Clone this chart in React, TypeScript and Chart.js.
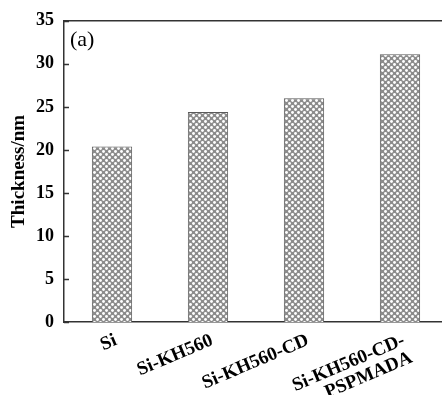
import React, { useEffect, useRef } from "react";
import { Chart, registerables } from "chart.js";

Chart.register(...registerables);

const categories: (string | string[])[] = [
  "Si",
  "Si-KH560",
  "Si-KH560-CD",
  ["Si-KH560-CD-", "PSPMADA"],
];
const thickness = [20.4, 24.4, 26.0, 31.1];
const yMin = 0;
const yMax = 35;
const yStep = 5;
const yTitle = "Thickness/nm";
const panelLabel = "(a)";

const SERIF = "'Liberation Serif', 'Times New Roman', serif";
const AXIS_COLOR = "#333333";

function makePattern(): CanvasPattern | string {
  const c = document.createElement("canvas");
  c.width = 6;
  c.height = 6;
  const g = c.getContext("2d");
  if (!g) return "#aaaaaa";
  g.fillStyle = "#8c8c8c";
  g.fillRect(0, 0, 6, 6);
  g.fillStyle = "#ffffff";
  const dots = [
    [1.5, 1.5],
    [4.5, 4.5],
  ];
  for (const [x, y] of dots) {
    g.beginPath();
    g.arc(x, y, 1.45, 0, Math.PI * 2);
    g.fill();
  }
  return g.createPattern(c, "repeat") || "#aaaaaa";
}

const framePlugin = {
  id: "frame",
  afterDraw(chart: any) {
    const { ctx, chartArea: a, scales } = chart;
    ctx.save();
    ctx.strokeStyle = AXIS_COLOR;
    ctx.lineWidth = 1.5;
    ctx.beginPath();
    ctx.moveTo(a.left, a.top);
    ctx.lineTo(a.right, a.top);
    ctx.lineTo(a.right, a.bottom);
    ctx.stroke();
    const ys = scales.y;
    ctx.beginPath();
    ys.ticks.forEach((t: any) => {
      const py = Math.round(ys.getPixelForValue(t.value)) + 0.5;
      ctx.moveTo(a.left, py);
      ctx.lineTo(a.left + 5, py);
    });
    ctx.stroke();
    ctx.fillStyle = "#000";
    ctx.font = `22px ${SERIF}`;
    ctx.textBaseline = "top";
    ctx.textAlign = "left";
    ctx.fillText(panelLabel, a.left + 6, a.top + 8);
    ctx.restore();
  },
};

export default function App() {
  const ref = useRef<HTMLCanvasElement | null>(null);

  useEffect(() => {
    if (!ref.current) return;
    const pattern = makePattern();
    const chart = new Chart(ref.current, {
      type: "bar",
      data: {
        labels: categories,
        datasets: [
          {
            data: thickness,
            backgroundColor: pattern as any,
            borderColor: "#5a5a5a",
            borderWidth: 1,
            categoryPercentage: 1,
            barPercentage: 0.42,
          },
        ],
      },
      options: {
        animation: false,
        responsive: true,
        maintainAspectRatio: false,
        layout: { padding: { left: 8, top: 11, right: 8, bottom: 0 } },
        plugins: {
          legend: { display: false },
          tooltip: { enabled: false },
        },
        scales: {
          x: {
            grid: { display: false, drawTicks: false },
            border: { display: true, color: AXIS_COLOR, width: 1.5 },
            ticks: {
              color: "#000",
              font: { family: SERIF, size: 19, weight: "bold", lineHeight: 1.0 },
              maxRotation: 23,
              minRotation: 23,
              autoSkip: false,
              padding: 9,
              labelOffset: 4,
            },
            afterFit: (s: any) => {
              s.height = 73;
            },
          },
          y: {
            min: yMin,
            max: yMax,
            grid: { display: false, drawTicks: false },
            border: { display: true, color: AXIS_COLOR, width: 1.5 },
            ticks: {
              stepSize: yStep,
              color: "#000",
              font: { family: SERIF, size: 18, weight: "bold" },
              padding: 10,
            },
            title: {
              display: true,
              text: yTitle,
              color: "#000",
              font: { family: SERIF, size: 19, weight: "bold" },
              padding: 0,
            },
            afterFit: (s: any) => {
              s.width = 56;
            },
          },
        },
      },
      plugins: [framePlugin],
    });
    return () => chart.destroy();
  }, []);

  return (
    <div
      style={{
        position: "absolute",
        left: 0,
        top: 0,
        width: 442,
        height: 395,
        overflow: "hidden",
        background: "#fff",
      }}
    >
      <div style={{ position: "relative", width: 456, height: 395 }}>
        <canvas ref={ref} />
      </div>
    </div>
  );
}
